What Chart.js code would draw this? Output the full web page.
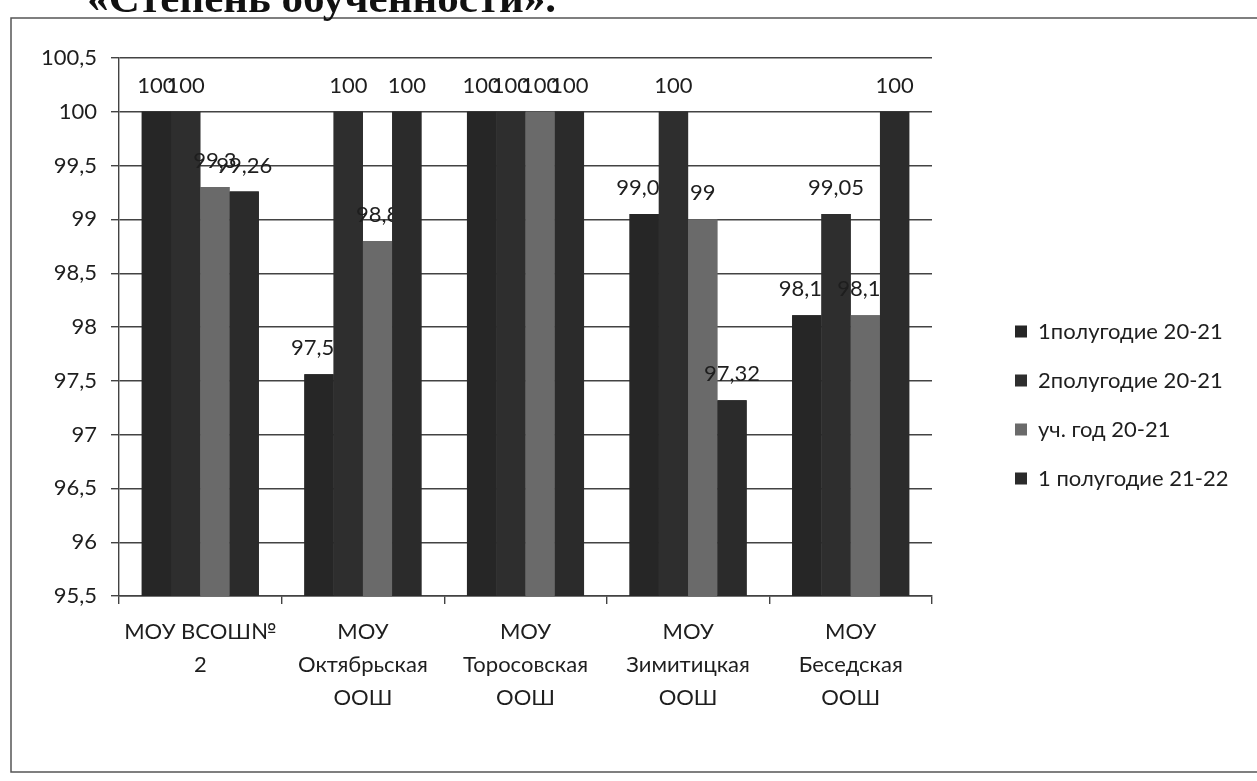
<!DOCTYPE html>
<html lang="ru">
<head>
<meta charset="utf-8">
<title>Степень обученности</title>
<script src="https://cdn.jsdelivr.net/npm/chart.js@4.4.1/dist/chart.umd.min.js"></script>
<style>
  html, body { margin: 0; padding: 0; background: #fff; overflow: hidden; }
  #wrap { position: relative; width: 1257px; height: 781px; }
  #grafico { position: absolute; left: 0; top: 0; }
  #titulo {
    position: absolute; left: 0; top: -24px; width: 556px; text-align: right;
    font: bold 43px/43px "Liberation Serif", serif; color: #111; white-space: nowrap;
  }
</style>
</head>
<body>
<div id="wrap">
  <canvas id="grafico" width="1257" height="781"></canvas>
  <div id="titulo">«Степень обученности».</div>
</div>
<script>
const escuelas = [
  ['МОУ ВСОШ№', '2'],
  ['МОУ', 'Октябрьская', 'ООШ'],
  ['МОУ', 'Торосовская', 'ООШ'],
  ['МОУ', 'Зимитицкая', 'ООШ'],
  ['МОУ', 'Беседская', 'ООШ']
];

const periodos = ['1полугодие 20-21', '2полугодие 20-21', 'уч. год 20-21', '1 полугодие 21-22'];

const primerPolugodie2021 = [100, 97.56, 100, 99.05, 98.11];
const segundoPolugodie2021 = [100, 100, 100, 100, 99.05];
const anioEscolar2021 = [99.3, 98.8, 100, 99, 98.11];
const primerPolugodie2122 = [99.26, 100, 100, 97.32, 100];

const marcasY = [95.5, 96, 96.5, 97, 97.5, 98, 98.5, 99, 99.5, 100, 100.5];

const colores = ['#262626', '#2e2e2e', '#6a6a6a', '#2b2b2b'];
const fuente = 'Lato';
const tamFuente = 22;
const colorTexto = '#1e1e1e';
const colorLineas = '#434343';

const conComa = v => String(Math.round(v * 100) / 100).replace('.', ',');

// ancho de la leyenda para dejar el área del gráfico en su sitio
const medidor = document.createElement('canvas').getContext('2d');
medidor.font = tamFuente + 'px ' + fuente;
const textoMax = Math.max(...periodos.map(p => medidor.measureText(p).width));
const anchoLeyenda = 27 + 12 + tamFuente / 2 + textoMax + 10;
const margenDerecho = Math.max(0, 1257 - 988 - anchoLeyenda);

// marco del diagrama
const marco = {
  id: 'marco',
  beforeDraw(chart) {
    const ctx = chart.ctx;
    ctx.save();
    ctx.strokeStyle = '#555';
    ctx.lineWidth = 1.5;
    ctx.strokeRect(11, 18, 1300, 754);
    ctx.restore();
  }
};

// barras y etiquetas serie por serie, como en Excel
const etiquetas = {
  id: 'etiquetas',
  afterDatasetsDraw(chart) {
    const ctx = chart.ctx;
    const area = chart.chartArea;
    chart.data.datasets.forEach((ds, i) => {
      const meta = chart.getDatasetMeta(i);
      ctx.save();
      ctx.beginPath();
      ctx.rect(area.left, area.top, area.right - area.left, area.bottom - area.top);
      ctx.clip();
      meta.data.forEach(bar => bar.draw(ctx));
      ctx.restore();

      ctx.save();
      ctx.font = tamFuente + 'px ' + fuente;
      ctx.fillStyle = colorTexto;
      ctx.textAlign = 'center';
      ctx.textBaseline = 'middle';
      meta.data.forEach((bar, j) => {
        ctx.fillText(conComa(ds.data[j]), bar.x, bar.y - 26);
      });
      ctx.restore();
    });
  }
};

let myChart;

function dibujarGrafico() {
  const ctx = document.getElementById('grafico').getContext('2d');
  const series = [primerPolugodie2021, segundoPolugodie2021, anioEscolar2021, primerPolugodie2122];

  myChart = new Chart(ctx, {
    type: 'bar',
    data: {
      labels: escuelas,
      datasets: series.map((valores, i) => ({
        label: periodos[i],
        data: valores,
        backgroundColor: colores[i],
        borderWidth: 0,
        categoryPercentage: 0.72,
        barPercentage: 1
      }))
    },
    options: {
      responsive: false,
      animation: false,
      devicePixelRatio: 1,
      layout: {
        padding: { left: 0, top: 58, right: margenDerecho, bottom: 29 }
      },
      plugins: {
        legend: {
          position: 'right',
          maxWidth: 400,
          labels: {
            boxWidth: 12,
            boxHeight: 12,
            padding: 27,
            color: colorTexto,
            font: { family: fuente, size: tamFuente }
          }
        },
        tooltip: { enabled: false }
      },
      scales: {
        x: {
          afterFit: scale => { scale.height = 156; },
          grid: { offset: true, drawOnChartArea: false, tickLength: 8, color: colorLineas, lineWidth: 1.4 },
          border: { color: colorLineas, width: 1.4 },
          ticks: {
            padding: 11,
            color: colorTexto,
            font: { family: fuente, size: tamFuente, lineHeight: 1.5 }
          }
        },
        y: {
          min: 95.5,
          max: 100.5,
          afterFit: scale => { scale.width = 119; },
          afterBuildTicks: scale => { scale.ticks = marcasY.map(v => ({ value: v })); },
          grid: { color: colorLineas, lineWidth: 1.4, tickLength: 8 },
          border: { color: colorLineas, width: 1.4 },
          ticks: {
            padding: 14,
            color: colorTexto,
            font: { family: fuente, size: tamFuente },
            callback: value => conComa(value)
          }
        },
        hueco: {
          type: 'linear',
          position: 'right',
          afterFit: scale => { scale.width = 56; },
          grid: { display: false },
          border: { display: false },
          ticks: { display: false }
        }
      }
    },
    plugins: [marco, etiquetas]
  });
}

dibujarGrafico();
</script>
</body>
</html>
